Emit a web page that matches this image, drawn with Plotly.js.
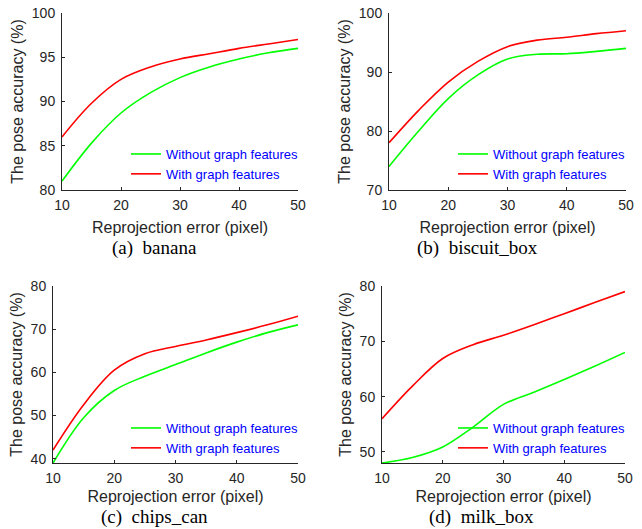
<!DOCTYPE html>
<html>
<head>
<meta charset="utf-8">
<script src="https://cdn.plot.ly/plotly-3.0.1.min.js"></script>
<style>
  html, body { margin: 0; padding: 0; background: #fff; }
  #chart { width: 642px; height: 529px; }
</style>
</head>
<body>
<div id="chart"></div>
<script>
// ---- data ----
const errorPx = [10, 15, 20, 25, 30, 35, 40, 45, 50];
const xTicks = [10, 20, 30, 40, 50];

const bananaWithout = [81, 85.3, 88.7, 91, 92.7, 93.9, 94.8, 95.5, 96];
const bananaWith    = [86, 89.8, 92.5, 93.9, 94.8, 95.4, 96, 96.5, 97];

const biscuitWithout = [74, 80, 85.5, 89.5, 92.2, 93, 93.1, 93.5, 94];
const biscuitWith    = [78, 83.5, 88.3, 91.8, 94.3, 95.4, 95.9, 96.5, 97];

const chipsWithout = [39, 49.5, 55.8, 59.1, 61.8, 64.5, 67, 69.2, 71];
const chipsWith    = [42, 52.5, 60.5, 64.3, 66, 67.5, 69.2, 71, 73];

const milkWithout = [48, 49, 50.9, 54.5, 58.6, 60.8, 63.1, 65.5, 68];
const milkWith    = [56, 61.9, 66.9, 69.4, 71.1, 73, 75, 77, 79];

const seriesNames = ['Without graph features', 'With graph features'];
const captions = ['(a)  banana', '(b)  biscuit_box', '(c)  chips_can', '(d)  milk_box'];
const yRanges = [[80, 100], [70, 100], [39, 80], [48, 80]];
const yTicks = [[80, 85, 90, 95, 100], [70, 80, 90, 100], [40, 50, 60, 70, 80], [50, 60, 70, 80]];
const xTitle = 'Reprojection error (pixel)';
const yTitle = 'The pose accuracy (%)';

// ---- layout helpers ----
const W = 642, H = 529;
const fx = p => p / W;
const fy = p => 1 - p / H;

const panels = [
  {x0: 62,  x1: 298, y0: 13,  y1: 190, data: [bananaWithout, bananaWith],   leg: [126, 139], cap: [154, 248]},
  {x0: 389, x1: 626, y0: 13,  y1: 190, data: [biscuitWithout, biscuitWith], leg: [453, 139], cap: [477, 248]},
  {x0: 53,  x1: 298, y0: 286, y1: 463, data: [chipsWithout, chipsWith],     leg: [126, 413], cap: [154, 517]},
  {x0: 382, x1: 625, y0: 286, y1: 463, data: [milkWithout, milkWith],       leg: [453, 413], cap: [481, 517]}
];
const colors = ['#00ff00', '#ff0000'];
const ink = '#262626';
const tickFont = {family: 'Liberation Sans, Arial, sans-serif', size: 14, color: ink};
const titleFont = {family: 'Liberation Sans, Arial, sans-serif', size: 16, color: ink};

const traces = [];
const layout = {
  width: W, height: H,
  margin: {l: 0, r: 0, t: 0, b: 0},
  paper_bgcolor: '#fff', plot_bgcolor: 'rgba(0,0,0,0)',
  showlegend: true,
  annotations: []
};

panels.forEach((p, i) => {
  const n = i === 0 ? '' : String(i + 1);
  const legName = i === 0 ? 'legend' : 'legend' + n;
  p.data.forEach((ys, k) => {
    traces.push({
      x: errorPx, y: ys, type: 'scatter', mode: 'lines',
      name: seriesNames[k],
      line: {color: colors[k], width: 1.6, shape: 'spline', smoothing: 1},
      xaxis: 'x' + n, yaxis: 'y' + n,
      legend: legName,
      hoverinfo: 'x+y'
    });
  });
  layout['xaxis' + n] = {
    domain: [fx(p.x0), fx(p.x1)], anchor: 'y' + n,
    range: [10, 50], tickvals: xTicks, ticks: 'inside', ticklen: 3, tickcolor: ink,
    showline: true, linecolor: ink, linewidth: 1, showgrid: false, zeroline: false,
    tickfont: tickFont, ticklabelstandoff: 2,
    title: {text: xTitle, font: titleFont, standoff: i < 2 ? 10 : 6}
  };
  layout['yaxis' + n] = {
    domain: [fy(p.y1), fy(p.y0)], anchor: 'x' + n,
    range: yRanges[i], tickvals: yTicks[i], ticks: 'inside', ticklen: 3, tickcolor: ink,
    showline: true, linecolor: ink, linewidth: 1, showgrid: false, zeroline: false,
    tickfont: tickFont, ticklabelstandoff: 3,
    title: {text: yTitle, font: titleFont, standoff: 4}
  };
  layout[legName] = {
    x: fx(p.leg[0]), y: fy(p.leg[1]), xanchor: 'left', yanchor: 'top',
    bgcolor: 'rgba(0,0,0,0)', borderwidth: 0,
    font: {family: 'Liberation Sans, Arial, sans-serif', size: 13, color: '#0000ff'},
    itemwidth: 30, tracegroupgap: 0
  };
  layout.annotations.push({
    text: captions[i], x: fx(p.cap[0]), y: fy(p.cap[1]), xref: 'paper', yref: 'paper',
    xanchor: 'center', yanchor: 'middle', showarrow: false,
    font: {family: 'Liberation Serif, Times New Roman, serif', size: 19, color: '#000'}
  });
});

Plotly.newPlot('chart', traces, layout, {displayModeBar: false, staticPlot: true});
</script>
</body>
</html>
